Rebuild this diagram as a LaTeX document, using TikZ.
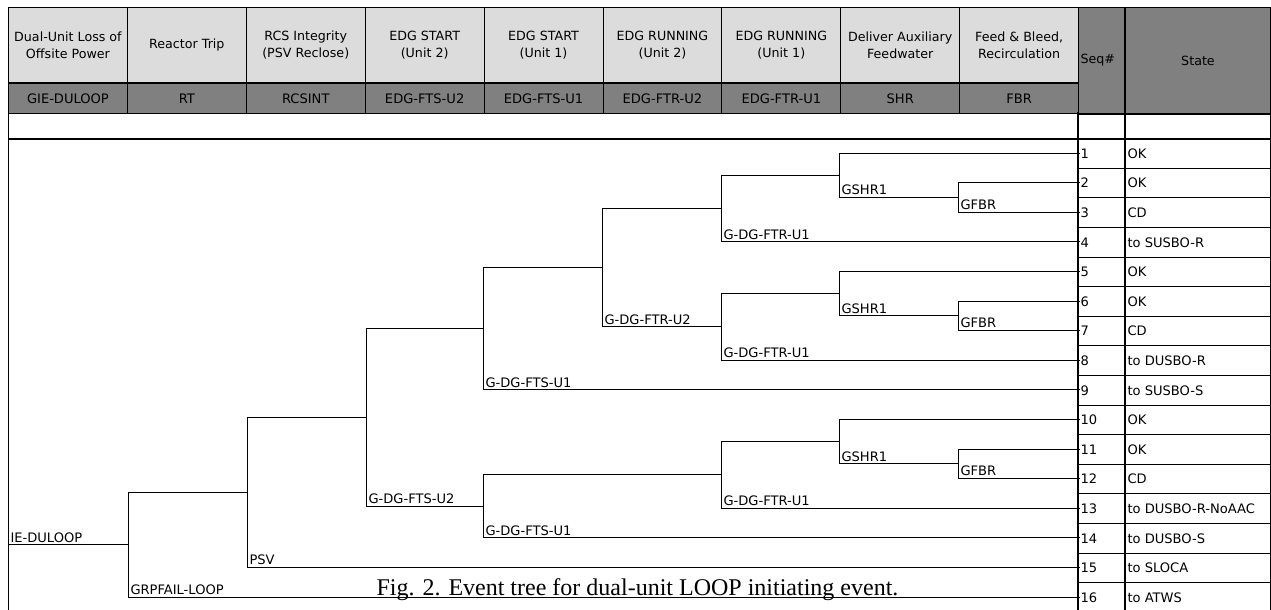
\documentclass[tikz,border=0pt]{standalone}
\usepackage{fontspec}
\setmainfont{DejaVu Sans}
\newfontfamily\capfont{Liberation Serif}
\definecolor{hdrlight}{RGB}{220,220,220}
\definecolor{hdrdark}{RGB}{128,128,128}
\tikzset{
  lbl/.style={anchor=south west, inner sep=1.5pt, font=\fontsize{9.8}{11}\selectfont},
  hcell/.style={draw, fill=hdrlight, anchor=north west, minimum width=89.17pt, minimum height=56.25pt, inner sep=0pt, align=center, font=\fontsize{9.5}{13}\selectfont},
  ccell/.style={draw, fill=hdrdark, anchor=north west, minimum width=89.17pt, minimum height=22.5pt, inner sep=0pt, font=\fontsize{9.8}{11}\selectfont},
  cell/.style={draw, anchor=north west, minimum height=22.2pt, inner sep=0pt},
  celltxt/.style={anchor=west, inner sep=1.5pt, font=\fontsize{9.8}{11}\selectfont},
}
\begin{document}
\begin{tikzpicture}[x=0.75pt, y=-0.75pt, line width=0.75pt]
\useasboundingbox (0,0) rectangle (1271,610);
% header
\foreach \i/\top/\code in {0/Dual-Unit Loss of\\Offsite Power/GIE-DULOOP, 1/Reactor Trip/RT,
    2/RCS Integrity\\(PSV Reclose)/RCSINT, 3/EDG START\\(Unit 2)/EDG-FTS-U2,
    4/EDG START\\(Unit 1)/EDG-FTS-U1, 5/EDG RUNNING\\(Unit 2)/EDG-FTR-U2,
    6/EDG RUNNING\\(Unit 1)/EDG-FTR-U1, 7/Deliver Auxiliary\\Feedwater/SHR,
    8/Feed \& Bleed{,}\\Recirculation/FBR}{
  \node[hcell] (h\i) at ({8+118.9*\i},7) {\top};
  \node[ccell] (c\i) at (h\i.south west) {\code};
}
\node[draw, fill=hdrdark, anchor=north west, minimum width=34.5pt, minimum height=79.5pt, inner sep=0pt] (seqh) at (1078,7) {};
\node[draw, fill=hdrdark, anchor=north west, minimum width=108.75pt, minimum height=79.5pt, inner sep=0pt] (stateh) at (seqh.north east) {};
\node[celltxt, font=\fontsize{9.5}{11}\selectfont] (seqt) at (seqh.west) {Seq\#};
\node[font=\fontsize{9.5}{11}\selectfont] (statet) at (stateh.center) {State};
\node[cell, minimum width=34.5pt, minimum height=18.9pt] (n0) at (seqh.south west) {};
\node[cell, minimum width=108.75pt, minimum height=18.9pt] (s0) at (n0.north east) {};
% sequences
\foreach \i/\st in {1/OK, 2/OK, 3/CD, 4/to SUSBO-R, 5/OK, 6/OK, 7/CD, 8/to DUSBO-R,
    9/to SUSBO-S, 10/OK, 11/OK, 12/CD, 13/to DUSBO-R-NoAAC, 14/to DUSBO-S,
    15/to SLOCA, 16/to ATWS}{
  \pgfmathsetmacro\yy{153+29.6*(\i-1)}
  \node[cell, minimum width=34.5pt] (n\i) at (1078,{\yy-14.8}) {};
  \node[cell, minimum width=108.75pt] (s\i) at (n\i.north east) {};
  \node[celltxt] (nt\i) at (n\i.west) {\i};
  \node[celltxt] (st\i) at (s\i.west) {\st};
  \coordinate (o\i) at (1080,\yy);
}
\draw (8,112) -- (8,612);
\draw[line width=1.5pt] (8,139) -- (1078,139);
\draw[line width=1.5pt] (1078,112) -- (1078,612);
% tree
\coordinate (ie) at (8,544.75);
\coordinate (rt) at (128,544.75);
\coordinate (rcs) at (247,492.5);
\coordinate (fs2) at (366,417.55);
\coordinate (fs1a) at (483,328.75);
\coordinate (fs1b) at (483,506.35);
\coordinate (fr2) at (602,267.7);
\coordinate (fr1a) at (721,208.5);
\coordinate (fr1b) at (721,326.9);
\coordinate (fr1c) at (721,474.9);
\coordinate (shra) at (839,175.2);
\coordinate (shrb) at (839,293.6);
\coordinate (shrc) at (839,441.6);
\coordinate (fbra) at (958,197.4);
\coordinate (fbrb) at (958,315.8);
\coordinate (fbrc) at (958,463.8);
\draw (ie) -- (rt);
\node[lbl] (lie) at (ie) {IE-DULOOP};
\foreach \p/\u/\d/\t in {rt/rcs/o16/GRPFAIL-LOOP, rcs/fs2/o15/PSV,
    fs2/fs1a/fs1b/G-DG-FTS-U2, fs1a/fr2/o9/G-DG-FTS-U1, fs1b/fr1c/o14/G-DG-FTS-U1,
    fr2/fr1a/fr1b/G-DG-FTR-U2, fr1a/shra/o4/G-DG-FTR-U1, fr1b/shrb/o8/G-DG-FTR-U1,
    fr1c/shrc/o13/G-DG-FTR-U1, shra/o1/fbra/GSHR1, shrb/o5/fbrb/GSHR1,
    shrc/o10/fbrc/GSHR1, fbra/o2/o3/GFBR, fbrb/o6/o7/GFBR, fbrc/o11/o12/GFBR}{
  \draw (\p) |- (\u);
  \draw (\p) |- (\d);
  \node[lbl] (l\p) at (\p |- \d) {\t};
}
\node[anchor=base west, inner sep=0pt, font=\capfont\fontsize{18}{20}\selectfont] (cap) at (376,595) {Fig. 2. Event tree for dual-unit LOOP initiating event.};
\end{tikzpicture}
\end{document}
